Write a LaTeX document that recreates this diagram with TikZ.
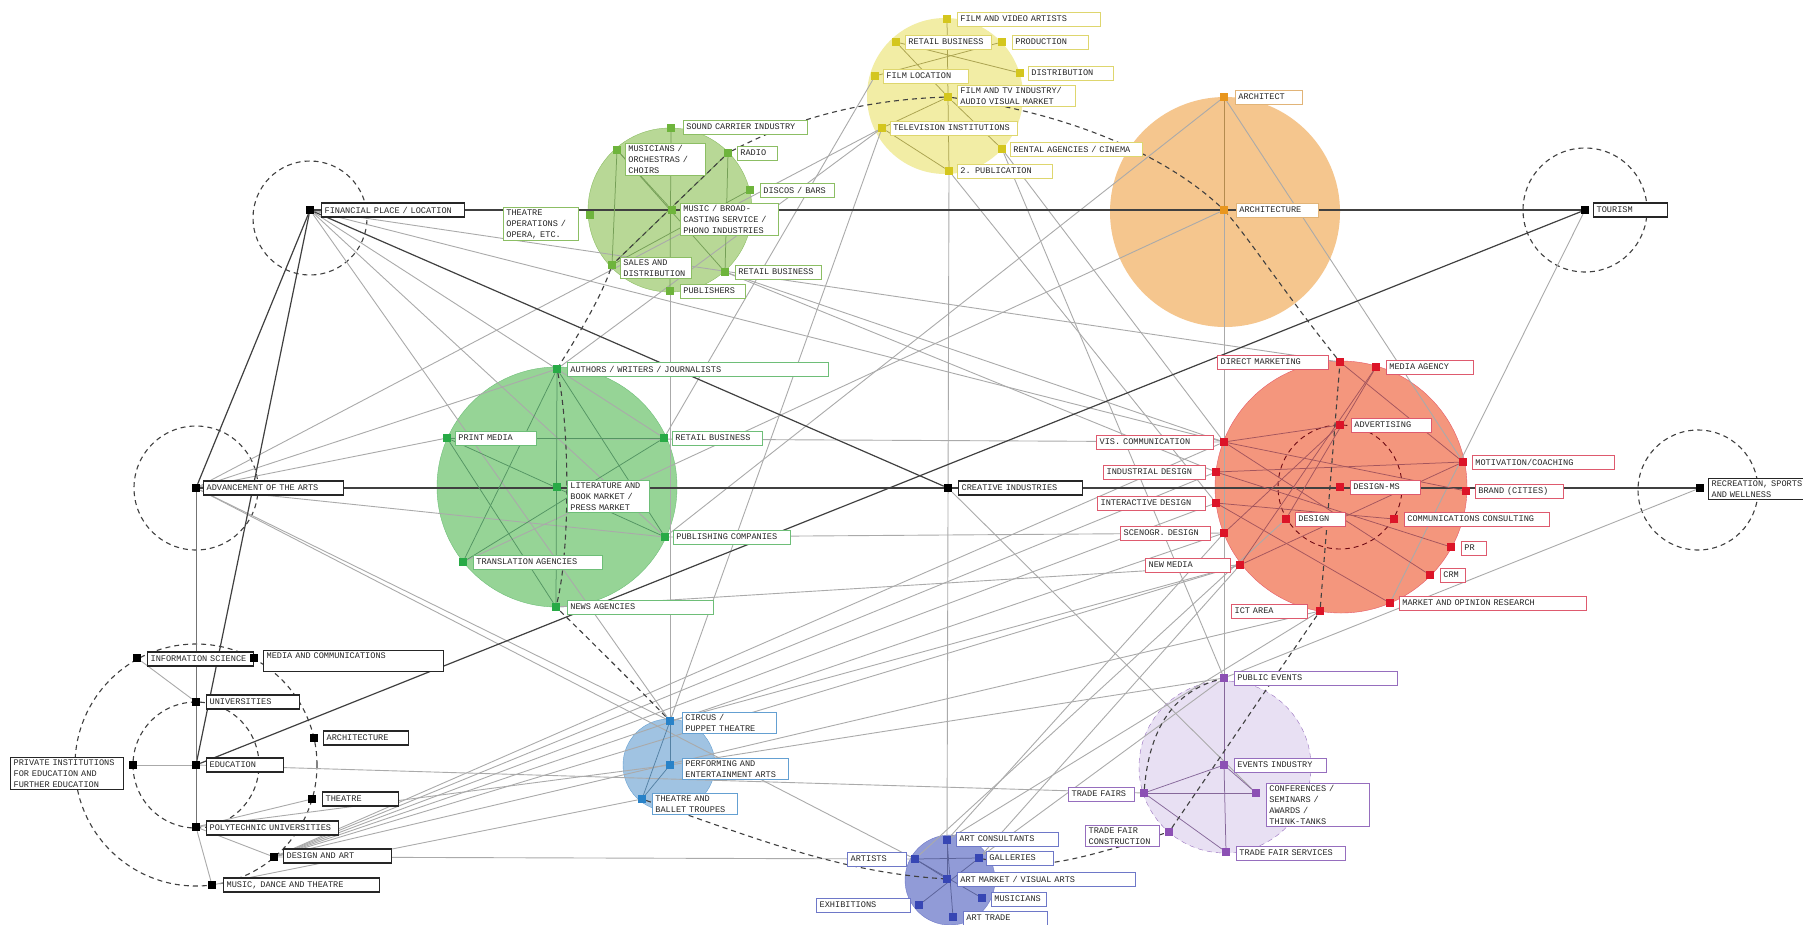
\documentclass[tikz,border=0pt]{standalone}
\usepackage{fontspec}
\setmonofont{Liberation Mono}
\newcommand\lblfont{\ttfamily\fontsize{8.6}{11}\selectfont}
\pgfdeclarelayer{bgc}
\pgfdeclarelayer{edg}
\pgfsetlayers{bgc,edg,main}
\definecolor{yfill}{RGB}{242,237,165}
\definecolor{ymk}{RGB}{212,198,30}
\definecolor{ybd}{RGB}{222,214,110}
\definecolor{gfill}{RGB}{184,216,150}
\definecolor{gmk}{RGB}{110,180,60}
\definecolor{gbd}{RGB}{140,190,100}
\definecolor{mfill}{RGB}{150,212,150}
\definecolor{mmk}{RGB}{40,170,70}
\definecolor{mbd}{RGB}{110,190,120}
\definecolor{ofill}{RGB}{245,198,142}
\definecolor{omk}{RGB}{232,150,30}
\definecolor{obd}{RGB}{225,180,120}
\definecolor{rfill}{RGB}{244,150,125}
\definecolor{rmk}{RGB}{220,20,40}
\definecolor{rbd}{RGB}{222,90,110}
\definecolor{bfill}{RGB}{160,195,226}
\definecolor{bmk}{RGB}{40,130,200}
\definecolor{bbd}{RGB}{100,160,210}
\definecolor{afill}{RGB}{145,155,215}
\definecolor{amk}{RGB}{55,70,180}
\definecolor{abd}{RGB}{110,120,200}
\definecolor{pfill}{RGB}{232,224,243}
\definecolor{pmk}{RGB}{140,80,180}
\definecolor{pbd}{RGB}{150,110,190}
\definecolor{gl}{RGB}{170,170,170}
\tikzset{
  mk/.style={rectangle, fill=#1, minimum size=8pt, inner sep=0pt},
  lb/.style={draw=#1, fill=white, font=\lblfont, text=black!85, inner xsep=3pt, inner ysep=2pt, minimum height=14pt, align=left, line width=0.8pt},
  lbk/.style={lb=black!85, line width=1.2pt},
  gline/.style={draw=gl, line width=0.9pt},
  dline/.style={draw=black!75, line width=1.2pt},
  dsh/.style={draw=black!75, line width=1.1pt, dash pattern=on 5pt off 4pt},
  inl/.style={draw=#1, line width=0.75pt},
}
\begin{document}
\begin{tikzpicture}[x=1pt,y=-1pt]
\useasboundingbox (0,0) rectangle (1803,924);
\begin{pgfonlayer}{bgc}
\fill[white] (0,0) rectangle (1803,924);
\fill[yfill] (945,96) circle (78pt);
\filldraw[fill=gfill, draw=gbd] (670,210) circle (82pt);
\filldraw[fill=mfill, draw=mbd] (557,487) circle (120pt);
\fill[ofill] (1225,212) circle (115pt);
\filldraw[fill=rfill, draw=rmk!70] (1341,487) circle (126pt);
\filldraw[fill=bfill, draw=bbd] (669,765) circle (46pt);
\filldraw[fill=afill, draw=abd] (950,880) circle (45pt);
\filldraw[fill=pfill, draw=pbd, dash pattern=on 5pt off 4pt] (1225,767) circle (86pt);
\draw[dsh] (310,218) circle (57pt);
\draw[dsh] (196,488) circle (62pt);
\draw[dsh] (1585,210) circle (62pt);
\draw[dsh] (1698,490) circle (60pt);
\draw[dsh] (196,765) circle (63pt);
\draw[dsh] (196,765) circle (121pt);
\draw[draw=rmk!50!black, line width=0.9pt, dash pattern=on 5pt off 4pt] (1340,487) circle (62pt);
\end{pgfonlayer}

% ---------- labels ----------
\node[lbk, text width=137pt, anchor=west] (finL) at (321,210) {FINANCIAL PLACE / LOCATION};
\node[lbk, text width=134pt, anchor=west] (advL) at (203,488) {ADVANCEMENT OF THE ARTS};
\node[lbk, text width=118pt, anchor=west] (creL) at (958,488) {CREATIVE INDUSTRIES};
\node[lbk, text width=68pt, anchor=west] (tourL) at (1593,210) {TOURISM};
\node[lbk, text width=100pt, anchor=north west] (recL) at (1708,478) {RECREATION, SPORTS\\AND WELLNESS};
\node[lbk, text width=71pt, anchor=west] (eduL) at (206,765) {EDUCATION};
\node[lbk, text width=100pt, anchor=west] (infoL) at (147,659) {INFORMATION SCIENCE};
\node[lbk, text width=174pt, anchor=north west] (mediaL) at (263,650) {MEDIA AND COMMUNICATIONS\\\mbox{}};
\node[lbk, text width=87pt, anchor=west] (univL) at (206,702) {UNIVERSITIES};
\node[lbk, text width=79pt, anchor=west] (archbL) at (323,738) {ARCHITECTURE};
\node[lbk, text width=107pt, anchor=north west] (privL) at (10,757) {PRIVATE INSTITUTIONS\\FOR EDUCATION AND\\FURTHER EDUCATION};
\node[lbk, text width=70pt, anchor=west] (theatrebL) at (322,799) {THEATRE};
\node[lbk, text width=126pt, anchor=west] (polyL) at (206,828) {POLYTECHNIC UNIVERSITIES};
\node[lbk, text width=102pt, anchor=west] (desartL) at (283,856) {DESIGN AND ART};
\node[lbk, text width=150pt, anchor=west] (musicL) at (223,885) {MUSIC, DANCE AND THEATRE};
% yellow
\node[lb=ybd, text width=137pt, anchor=west] (y_fvaL) at (957,19) {FILM AND VIDEO ARTISTS};
\node[lb=ybd, text width=80pt, anchor=west] (y_retL) at (905,42) {RETAIL BUSINESS};
\node[lb=ybd, text width=70pt, anchor=west] (y_prodL) at (1012,42) {PRODUCTION};
\node[lb=ybd, text width=79pt, anchor=west] (y_locL) at (883,76) {FILM LOCATION};
\node[lb=ybd, text width=79pt, anchor=west] (y_distL) at (1028,73) {DISTRIBUTION};
\node[lb=ybd, text width=112pt, anchor=north west] (y_ftvL) at (957,85) {FILM AND TV INDUSTRY/\\AUDIO VISUAL MARKET};
\node[lb=ybd, text width=121pt, anchor=west] (y_tvL) at (890,128) {TELEVISION INSTITUTIONS};
\node[lb=ybd, text width=126pt, anchor=west] (y_rentL) at (1010,149) {RENTAL AGENCIES / CINEMA};
\node[lb=ybd, text width=89pt, anchor=west] (y_pubL) at (957,171) {2. PUBLICATION};
% green top
\node[lb=gbd, text width=118pt, anchor=west] (g_scL) at (683,127) {SOUND CARRIER INDUSTRY};
\node[lb=gbd, text width=74pt, anchor=north west] (g_musL) at (625,143) {MUSICIANS /\\ORCHESTRAS /\\CHOIRS};
\node[lb=gbd, text width=34pt, anchor=west] (g_radioL) at (737,153) {RADIO};
\node[lb=gbd, text width=68pt, anchor=west] (g_discoL) at (760,190) {DISCOS / BARS};
\node[lb=gbd, text width=69pt, anchor=north west] (g_theatL) at (503,207) {THEATRE\\OPERATIONS /\\OPERA, ETC.};
\node[lb=gbd, text width=92pt, anchor=north west] (g_musicL) at (680,203) {MUSIC / BROAD-\\CASTING SERVICE /\\PHONO INDUSTRIES};
\node[lb=gbd, text width=65pt, anchor=north west] (g_salesL) at (620,257) {SALES AND\\DISTRIBUTION};
\node[lb=gbd, text width=80pt, anchor=west] (g_retL) at (735,272) {RETAIL BUSINESS};
\node[lb=gbd, text width=59pt, anchor=west] (g_pubL) at (680,291) {PUBLISHERS};
% green middle
\node[lb=mbd, text width=255pt, anchor=west] (m_authL) at (567,369) {AUTHORS / WRITERS / JOURNALISTS};
\node[lb=mbd, text width=75pt, anchor=west] (m_printL) at (455,438) {PRINT MEDIA};
\node[lb=mbd, text width=84pt, anchor=west] (m_retL) at (672,438) {RETAIL BUSINESS};
\node[lb=mbd, text width=76pt, anchor=north west] (m_litL) at (567,480) {LITERATURE AND\\BOOK MARKET /\\PRESS MARKET};
\node[lb=mbd, text width=111pt, anchor=west] (m_pubcL) at (673,537) {PUBLISHING COMPANIES};
\node[lb=mbd, text width=123pt, anchor=west] (m_transL) at (473,562) {TRANSLATION AGENCIES};
\node[lb=mbd, text width=140pt, anchor=west] (m_newsL) at (567,607) {NEWS AGENCIES};
% orange
\node[lb=obd, text width=61pt, anchor=west] (o_archL) at (1235,97) {ARCHITECT};
\node[lb=obd, text width=76pt, anchor=west] (o_archiL) at (1236,210) {ARCHITECTURE};
% red
\node[lb=rbd, text width=105pt, anchor=east] (r_dmL) at (1329,362) {DIRECT MARKETING};
\node[lb=rbd, text width=81pt, anchor=west] (r_maL) at (1386,367) {MEDIA AGENCY};
\node[lb=rbd, text width=74pt, anchor=west] (r_advL) at (1351,425) {ADVERTISING};
\node[lb=rbd, text width=111pt, anchor=east] (r_visL) at (1214,442) {VIS. COMMUNICATION};
\node[lb=rbd, text width=136pt, anchor=west] (r_motL) at (1472,462) {MOTIVATION/COACHING};
\node[lb=rbd, text width=96pt, anchor=east] (r_indL) at (1206,472) {INDUSTRIAL DESIGN};
\node[lb=rbd, text width=64pt, anchor=west] (r_dmsL) at (1350,487) {DESIGN-MS};
\node[lb=rbd, text width=82pt, anchor=west] (r_brandL) at (1475,491) {BRAND (CITIES)};
\node[lb=rbd, text width=102pt, anchor=east] (r_interL) at (1206,503) {INTERACTIVE DESIGN};
\node[lb=rbd, text width=44pt, anchor=west] (r_desL) at (1295,519) {DESIGN};
\node[lb=rbd, text width=139pt, anchor=west] (r_ccL) at (1404,519) {COMMUNICATIONS CONSULTING};
\node[lb=rbd, text width=84pt, anchor=east] (r_scenL) at (1211,533) {SCENOGR. DESIGN};
\node[lb=rbd, text width=19pt, anchor=west] (r_prL) at (1461,548) {PR};
\node[lb=rbd, text width=79pt, anchor=east] (r_nmL) at (1231,565) {NEW MEDIA};
\node[lb=rbd, text width=19pt, anchor=west] (r_crmL) at (1440,575) {CRM};
\node[lb=rbd, text width=181pt, anchor=west] (r_morL) at (1399,603) {MARKET AND OPINION RESEARCH};
\node[lb=rbd, text width=70pt, anchor=east] (r_ictL) at (1308,611) {ICT AREA};
% blue
\node[lb=bbd, text width=88pt, anchor=north west] (b_circL) at (682,712) {CIRCUS /\\PUPPET THEATRE};
\node[lb=bbd, text width=100pt, anchor=north west] (b_perfL) at (682,758) {PERFORMING AND\\ENTERTAINMENT ARTS};
\node[lb=bbd, text width=79pt, anchor=north west] (b_thbL) at (652,793) {THEATRE AND\\BALLET TROUPES};
% art
\node[lb=abd, text width=96pt, anchor=west] (a_consL) at (956,839) {ART CONSULTANTS};
\node[lb=abd, text width=53pt, anchor=east] (a_artistsL) at (907,859) {ARTISTS};
\node[lb=abd, text width=61pt, anchor=west] (a_galL) at (986,858) {GALLERIES};
\node[lb=abd, text width=172pt, anchor=west] (a_mktL) at (957,879) {ART MARKET / VISUAL ARTS};
\node[lb=abd, text width=49pt, anchor=west] (a_musL) at (991,899) {MUSICIANS};
\node[lb=abd, text width=88pt, anchor=east] (a_exhL) at (911,905) {EXHIBITIONS};
\node[lb=abd, text width=78pt, anchor=west] (a_tradeL) at (963,918) {ART TRADE};
% purple
\node[lb=pbd, text width=157pt, anchor=west] (p_pubL) at (1234,678) {PUBLIC EVENTS};
\node[lb=pbd, text width=86pt, anchor=west] (p_evL) at (1234,765) {EVENTS INDUSTRY};
\node[lb=pbd, text width=60pt, anchor=east] (p_tfL) at (1135,794) {TRADE FAIRS};
\node[lb=pbd, text width=97pt, anchor=north west] (p_confL) at (1266,783) {CONFERENCES /\\SEMINARS /\\AWARDS /\\THINK-TANKS};
\node[lb=pbd, text width=68pt, anchor=north east] (p_tfcL) at (1160,825) {TRADE FAIR\\CONSTRUCTION};
\node[lb=pbd, text width=103pt, anchor=west] (p_tfsL) at (1236,853) {TRADE FAIR SERVICES};

% ---------- markers ----------
\node[mk=black] (fin) at (310,210) {};
\node[mk=black] (adv) at (196,488) {};
\node[mk=black] (cre) at (948,488) {};
\node[mk=black] (tour) at (1585,210) {};
\node[mk=black] (rec) at (1700,488) {};
\node[mk=black] (edu) at (196,765) {};
\node[mk=black] (infosci) at (137,658) {};
\node[mk=black] (media) at (254,658) {};
\node[mk=black] (univ) at (196,702) {};
\node[mk=black] (archb) at (314,738) {};
\node[mk=black] (priv) at (133,765) {};
\node[mk=black] (theatreb) at (312,799) {};
\node[mk=black] (poly) at (196,827) {};
\node[mk=black] (desart) at (274,857) {};
\node[mk=black] (music) at (212,885) {};
\node[mk=ymk] (y_fva) at (947,19) {};
\node[mk=ymk] (y_ret) at (896,42) {};
\node[mk=ymk] (y_prod) at (1002,42) {};
\node[mk=ymk] (y_loc) at (875,76) {};
\node[mk=ymk] (y_dist) at (1020,73) {};
\node[mk=ymk] (y_ftv) at (948,97) {};
\node[mk=ymk] (y_tv) at (882,128) {};
\node[mk=ymk] (y_rent) at (1002,149) {};
\node[mk=ymk] (y_pub) at (949,171) {};
\node[mk=gmk] (g_sc) at (671,128) {};
\node[mk=gmk] (g_mus) at (617,150) {};
\node[mk=gmk] (g_radio) at (728,153) {};
\node[mk=gmk] (g_disco) at (750,190) {};
\node[mk=gmk] (g_theat) at (590,215) {};
\node[mk=gmk] (g_music) at (672,210) {};
\node[mk=gmk] (g_sales) at (612,265) {};
\node[mk=gmk] (g_ret) at (725,272) {};
\node[mk=gmk] (g_pub) at (670,291) {};
\node[mk=mmk] (m_auth) at (557,369) {};
\node[mk=mmk] (m_print) at (447,438) {};
\node[mk=mmk] (m_ret) at (664,438) {};
\node[mk=mmk] (m_lit) at (557,487) {};
\node[mk=mmk] (m_pubc) at (665,537) {};
\node[mk=mmk] (m_trans) at (463,562) {};
\node[mk=mmk] (m_news) at (556,607) {};
\node[mk=omk] (o_arch) at (1224,97) {};
\node[mk=omk] (o_archi) at (1224,210) {};
\node[mk=rmk] (r_dm) at (1340,362) {};
\node[mk=rmk] (r_ma) at (1376,367) {};
\node[mk=rmk] (r_adv) at (1340,425) {};
\node[mk=rmk] (r_vis) at (1224,442) {};
\node[mk=rmk] (r_mot) at (1463,462) {};
\node[mk=rmk] (r_ind) at (1216,472) {};
\node[mk=rmk] (r_dms) at (1340,487) {};
\node[mk=rmk] (r_brand) at (1466,491) {};
\node[mk=rmk] (r_inter) at (1216,503) {};
\node[mk=rmk] (r_des) at (1286,519) {};
\node[mk=rmk] (r_cc) at (1394,519) {};
\node[mk=rmk] (r_scen) at (1224,533) {};
\node[mk=rmk] (r_pr) at (1451,547) {};
\node[mk=rmk] (r_nm) at (1240,565) {};
\node[mk=rmk] (r_crm) at (1430,575) {};
\node[mk=rmk] (r_mor) at (1390,603) {};
\node[mk=rmk] (r_ict) at (1320,611) {};
\node[mk=bmk] (b_circ) at (670,721) {};
\node[mk=bmk] (b_perf) at (670,765) {};
\node[mk=bmk] (b_thb) at (642,799) {};
\node[mk=amk] (a_cons) at (947,840) {};
\node[mk=amk] (a_artists) at (915,859) {};
\node[mk=amk] (a_gal) at (979,858) {};
\node[mk=amk] (a_mkt) at (947,879) {};
\node[mk=amk] (a_mus) at (982,898) {};
\node[mk=amk] (a_exh) at (919,905) {};
\node[mk=amk] (a_trade) at (953,917) {};
\node[mk=pmk] (p_pub) at (1224,678) {};
\node[mk=pmk] (p_ev) at (1224,765) {};
\node[mk=pmk] (p_tf) at (1144,793) {};
\node[mk=pmk] (p_conf) at (1256,793) {};
\node[mk=pmk] (p_tfc) at (1169,832) {};
\node[mk=pmk] (p_tfs) at (1226,852) {};

% ---------- connectors ----------
\begin{pgfonlayer}{edg}
% grey cross links
\draw[gline] (fin) -- (r_dm);
\draw[gline] (fin) -- (r_vis);
\draw[gline] (fin) -- (m_ret);
\draw[gline] (fin) -- (m_pubc);
\draw[gline] (fin) -- (b_circ);
\draw[gline] (adv) -- (m_auth);
\draw[gline] (adv) -- (y_tv);
\draw[gline] (adv) -- (m_print);
\draw[gline] (adv) -- (m_pubc);
\draw[gline] (adv) -- (b_circ);
\draw[gline] (adv) -- (a_artists);
\draw[gline] (edu) -- (p_tf);
\draw[gline] (poly) -- (b_perf);
\draw[gline] (music) -- (b_thb);
\draw[gline] (desart) -- (a_artists);
\draw[gline] (desart) -- (r_ict);
\draw[gline] (desart) -- (r_nm);
\draw[gline] (desart) -- (r_scen);
\draw[gline] (desart) -- (r_inter);
\draw[gline] (desart) -- (r_ind);
\draw[gline] (desart) -- (r_vis);
\draw[gline] (y_pub) -- (a_cons);
\draw[gline] (y_pub) -- (r_inter);
\draw[gline] (y_loc) -- (m_ret);
\draw[gline] (y_tv) -- (m_auth);
\draw[gline] (y_tv) -- (b_circ);
\draw[gline] (y_rent) -- (p_pub);
\draw[gline] (y_rent) -- (r_vis);
\draw[gline] (o_arch) -- (m_pubc);
\draw[gline] (o_archi) -- (m_trans);
\draw[gline] (o_arch) -- (r_mot);
\draw[gline] (o_arch) -- (p_ev);
\draw[gline] (tour) -- (r_mor);
\draw[gline] (rec) -- (p_pub);
\draw[gline] (g_ret) -- (r_vis);
\draw[gline] (g_ret) -- (r_ind);
\draw[gline] (m_print) -- (r_vis);
\draw[gline] (m_pubc) -- (r_scen);
\draw[gline] (m_news) -- (r_nm);
\draw[gline] (g_pub) -- (b_circ);
\draw[gline] (b_circ) -- (r_nm);
\draw[gline] (b_perf) -- (p_pub);
\draw[gline] (a_cons) -- (r_ict);
\draw[gline] (a_cons) -- (r_scen);
\draw[gline] (a_gal) -- (r_nm);
\draw[gline] (a_artists) -- (r_des);
\draw[gline] (a_gal) -- (p_pub);
\draw[gline] (cre) -- (p_conf);
\draw[gline] (priv) -- (edu);
\draw[gline] (infosci) -- (univ);
\draw[gline] (poly) -- (music);
\draw[gline] (poly) -- (desart);
\draw[gline] (poly) -- (theatreb);
% dark main links
\draw[dline] (fin) -- (tour);
\draw[dline] (adv) -- (rec);
\draw[dline] (fin) -- (cre);
\draw[dline] (edu) -- (tour);
\draw[dline] (fin) -- (adv);
\draw[dline] (fin) -- (edu);
\draw[dline, draw=black!55, line width=0.9pt] (adv) -- (poly);
% yellow inner
\draw[inl=ymk!50!gray] (y_ret) -- (y_dist);
\draw[inl=ymk!50!gray] (y_loc) -- (y_prod);
\draw[inl=ymk!50!gray] (y_fva) -- (y_ftv);
\draw[inl=ymk!50!gray] (y_ftv) -- (y_pub);
\draw[inl=ymk!50!gray] (y_ftv) -- (y_rent);
\draw[inl=ymk!50!gray] (y_ftv) -- (y_tv);
\draw[inl=ymk!50!gray] (y_tv) -- (y_pub);
\draw[inl=ymk!50!gray] (y_ret) -- (y_ftv);
% green top inner
\draw[inl=gmk!60!gray] (g_sc) -- (g_pub);
\draw[inl=gmk!60!gray] (g_mus) -- (g_music);
\draw[inl=gmk!60!gray] (g_mus) -- (g_ret);
\draw[inl=gmk!60!gray] (g_sales) -- (g_radio);
\draw[inl=gmk!60!gray] (g_sales) -- (g_disco);
\draw[inl=gmk!60!gray] (g_mus) -- (g_sales);
\draw[inl=gmk!60!gray] (g_radio) -- (g_ret);
% green middle inner
\draw[inl=mmk!50!gray] (m_auth) -- (m_news);
\draw[inl=mmk!50!gray] (m_print) -- (m_ret);
\draw[inl=mmk!50!gray] (m_auth) -- (m_pubc);
\draw[inl=mmk!50!gray] (m_print) -- (m_pubc);
\draw[inl=mmk!50!gray] (m_trans) -- (m_ret);
\draw[inl=mmk!50!gray] (m_auth) -- (m_trans);
\draw[inl=mmk!50!gray] (m_print) -- (m_news);
% orange inner
\draw[inl=omk!50!gray] (o_arch) -- (o_archi);
% red inner
\draw[inl=rmk!40!gray] (r_vis) -- (r_adv);
\draw[inl=rmk!40!gray] (r_vis) -- (r_brand);
\draw[inl=rmk!40!gray] (r_ind) -- (r_mot);
\draw[inl=rmk!40!gray] (r_inter) -- (r_cc);
\draw[inl=rmk!40!gray] (r_ma) -- (r_nm);
\draw[inl=rmk!40!gray] (r_ma) -- (r_des);
\draw[inl=rmk!40!gray] (r_dm) -- (r_mot);
\draw[inl=rmk!40!gray] (r_crm) -- (r_vis);
\draw[inl=rmk!40!gray] (r_pr) -- (r_ind);
\draw[inl=rmk!40!gray] (r_mor) -- (r_inter);
\draw[inl=rmk!40!gray] (r_scen) -- (r_adv);
\draw[inl=rmk!40!gray] (r_nm) -- (r_mot);
% blue inner
\draw[inl=bmk!50!gray] (b_circ) -- (b_perf);
\draw[inl=bmk!50!gray] (b_perf) -- (b_thb);
\draw[inl=bmk!50!gray] (b_circ) -- (b_thb);
% art inner
\draw[inl=amk!50!gray] (a_artists) -- (a_gal);
\draw[inl=amk!50!gray] (a_cons) -- (a_mkt);
\draw[inl=amk!50!gray] (a_artists) -- (a_mkt);
\draw[inl=amk!50!gray] (a_exh) -- (a_gal);
\draw[inl=amk!50!gray] (a_trade) -- (a_cons);
\draw[inl=amk!50!gray] (a_mus) -- (a_artists);
% purple inner
\draw[inl=pmk!50!gray] (p_pub) -- (p_ev);
\draw[inl=pmk!50!gray] (p_ev) -- (p_tf);
\draw[inl=pmk!50!gray] (p_ev) -- (p_conf);
\draw[inl=pmk!50!gray] (p_tf) -- (p_conf);
\draw[inl=pmk!50!gray] (p_tf) -- (p_tfs);
\draw[inl=pmk!50!gray] (p_ev) -- (p_tfs);
% dashed chain
\draw[dsh] (y_ftv) .. controls (860,100) and (790,120) .. (g_radio);
\draw[dsh] (g_radio) -- (g_sales);
\draw[dsh] (g_sales) .. controls (600,300) and (575,340) .. (m_auth);
\draw[dsh] (m_auth) .. controls (570,430) and (570,550) .. (m_news);
\draw[dsh] (m_news) .. controls (600,650) and (640,690) .. (b_circ);
\draw[dsh] (b_thb) .. controls (760,840) and (840,872) .. (a_mkt);
\draw[dsh] (a_gal) .. controls (1040,872) and (1075,860) .. (p_tfc);
\draw[dsh] (p_tfc) -- (r_ict);
\draw[dsh] (p_tf) .. controls (1150,720) and (1180,690) .. (p_pub);
\draw[dsh] (r_ict) -- (r_dm);
\draw[dsh] (r_dm) .. controls (1290,300) and (1250,240) .. (o_archi);
\draw[dsh] (o_archi) .. controls (1170,160) and (1080,115) .. (y_ftv);
\end{pgfonlayer}
\end{tikzpicture}
\end{document}
